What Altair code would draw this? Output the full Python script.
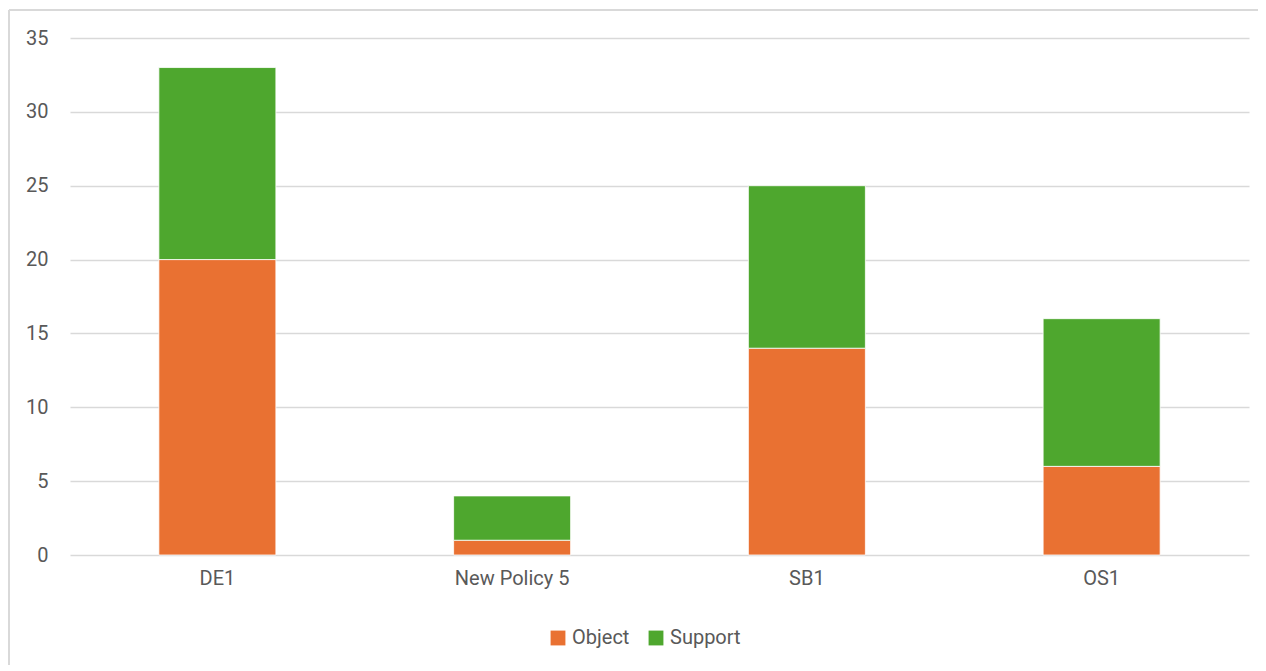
import altair as alt
import pandas as pd

categories = ["DE1", "New Policy 5", "SB1", "OS1"]
object_vals = [20, 1, 14, 6]
support_vals = [13, 3, 11, 10]
series = ["Object", "Support"]
colors = ["#E97132", "#4EA72E"]

rows = []
for c, o, s in zip(categories, object_vals, support_vals):
    rows.append({"cat": c, "series": "Object", "value": o, "ord": 0})
    rows.append({"cat": c, "series": "Support", "value": s, "ord": 1})
df = pd.DataFrame(rows)

FONT = "Roboto"
FS = 20
W, H = 1179, 517

bars = alt.Chart(df).mark_bar(stroke="white", strokeWidth=0.8).encode(
    x=alt.X("cat:N", sort=categories, title=None,
            scale=alt.Scale(paddingInner=0.603, paddingOuter=0.3015),
            axis=alt.Axis(labelAngle=0, labelFontSize=FS, labelColor="#595959",
                          labelFont=FONT, domain=False, ticks=False, grid=False,
                          labelPadding=13)),
    y=alt.Y("value:Q", stack="zero", title=None,
            scale=alt.Scale(domain=[0, 35], nice=False),
            axis=alt.Axis(values=[0, 5, 10, 15, 20, 25, 30, 35], labelFontSize=FS,
                          labelColor="#595959", labelFont=FONT, domain=False, ticks=False,
                          labelPadding=22, gridColor="#d9d9d9", gridWidth=1.5)),
    color=alt.Color("series:N", scale=alt.Scale(domain=series, range=colors),
                    legend=alt.Legend(title=None, orient="none", direction="horizontal",
                                      legendX=478, legendY=590, symbolType="square",
                                      symbolSize=220, symbolStrokeWidth=0,
                                      labelFontSize=FS, labelColor="#595959", labelFont=FONT,
                                      columnPadding=16, labelOffset=4)),
    order=alt.Order("ord:Q"),
)

border_top = alt.Chart(pd.DataFrame({"a": [0]})).mark_rule(color="#d9d9d9", strokeWidth=2).encode(
    x=alt.value(-61), x2=alt.value(1190), y=alt.value(-28))
border_left = alt.Chart(pd.DataFrame({"a": [0]})).mark_rule(color="#d9d9d9", strokeWidth=2).encode(
    x=alt.value(-61), y=alt.value(-28), y2=alt.value(671 - 38))

chart = alt.layer(bars, border_top, border_left).properties(
    width=W, height=H,
    background="white",
    autosize=alt.AutoSizeParams(type="none"),
    padding={"left": 62, "top": 30, "right": 9, "bottom": 110},
).configure_view(stroke=None, strokeWidth=0)

chart.save("out.html", embed_options={"renderer": "svg", "actions": False})
